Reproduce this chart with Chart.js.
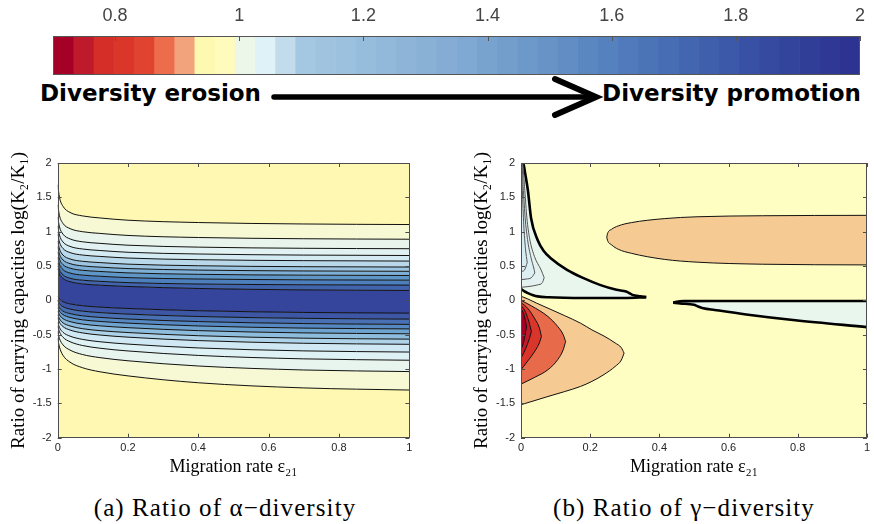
<!DOCTYPE html>
<html lang="en">
<head>
<meta charset="UTF-8">
<title>Diversity ratios</title>
<style>
  body { margin: 0; width: 874px; height: 524px; position: relative; background: #fff; overflow: hidden; }
  canvas { position: absolute; }
  .lbl { position: absolute; font-family: "DejaVu Sans"; font-weight: bold; font-size: 23px; line-height: 23px; color: #000; white-space: nowrap; }
  .cap { position: absolute; width: 420px; text-align: center; font-family: "Liberation Serif"; font-size: 25px; letter-spacing: 1.1px; line-height: 28px; color: #000; white-space: nowrap; }
</style>
</head>
<body>
<canvas id="cbar" width="874" height="75" style="left:0;top:0"></canvas>
<div class="lbl" style="left:40px;top:82px">Diversity erosion</div>
<div class="lbl" style="right:13px;top:82px">Diversity promotion</div>
<svg style="position:absolute;left:0;top:0" width="874" height="130">
  <line x1="274" y1="97" x2="592" y2="97" stroke="#000" stroke-width="5.5" stroke-linecap="round"/>
  <polyline points="555,79 596,97 555,115" fill="none" stroke="#000" stroke-width="6" stroke-linecap="round" stroke-linejoin="miter"/>
</svg>
<canvas id="alpha" width="437" height="340" style="left:0;top:140px"></canvas>
<canvas id="gamma" width="437" height="340" style="left:437px;top:140px"></canvas>
<div class="cap" style="left:15px;top:494px">(a) Ratio of α−diversity</div>
<div class="cap" style="left:474px;top:494px">(b) Ratio of γ−diversity</div>

<script src="https://cdn.jsdelivr.net/npm/chart.js"></script>
<script>
// colour bar
const cbMin = 0.7, cbMax = 2;
const cbTicks = [0.8, 1, 1.2, 1.4, 1.6, 1.8, 2];
const cbColors = ['#a50026', '#be1a2c', '#d52d27', '#da372a', '#e0432f', '#ec6c4b', '#f3a37b', '#fef9b0', '#fffbbd',
    '#ecf6e9', '#dff2f7', '#c2dcec', '#a4c8e2', '#a0c4e0', '#9cc1de', '#97bddc', '#93b9da', '#8eb5d8', '#89b1d6',
    '#84acd4', '#7fa8d2', '#79a3cf', '#739ecc', '#6d98ca', '#6793c7', '#618dc4', '#5b87c1', '#5581be', '#507abb',
    '#4b74b7', '#476db4', '#4366b0', '#3f5fac', '#3c58a8', '#3951a4', '#364aa0', '#33449c', '#313e98', '#2f3894', '#2c3391'];

// (a) alpha diversity: contour lines, read at these migration rates
const alphaX = [0, 0.005, 0.015, 0.035, 0.07, 0.12, 0.2, 0.4, 0.7, 1];
const alphaY = [
    [1.68, 1.5, 1.37, 1.28, 1.23, 1.2, 1.167, 1.133, 1.112, 1.104],
    [1.39, 1.235, 1.12, 1.045, 1.0, 0.975, 0.945, 0.915, 0.897, 0.89],
    [1.21, 1.07, 0.964, 0.895, 0.853, 0.83, 0.803, 0.775, 0.758, 0.752],
    [1.083, 0.95, 0.851, 0.786, 0.748, 0.726, 0.70, 0.675, 0.659, 0.653],
    [0.972, 0.848, 0.756, 0.696, 0.66, 0.64, 0.616, 0.592, 0.578, 0.572],
    [0.865, 0.747, 0.66, 0.603, 0.569, 0.55, 0.527, 0.504, 0.49, 0.485],
    [0.783, 0.671, 0.589, 0.535, 0.502, 0.484, 0.463, 0.441, 0.428, 0.423],
    [0.707, 0.60, 0.521, 0.469, 0.438, 0.421, 0.40, 0.379, 0.367, 0.362],
    [0.629, 0.525, 0.448, 0.398, 0.368, 0.351, 0.331, 0.311, 0.299, 0.294],
    [0.547, 0.446, 0.372, 0.322, 0.294, 0.277, 0.258, 0.238, 0.227, 0.222],
    [0.464, 0.384, 0.32, 0.272, 0.24, 0.221, 0.202, 0.173, 0.152, 0.144],
    [0.064, 0.022, -0.018, -0.051, -0.078, -0.098, -0.118, -0.151, -0.176, -0.186],
    [-0.003, -0.049, -0.092, -0.127, -0.157, -0.178, -0.20, -0.235, -0.262, -0.273],
    [-0.06, -0.109, -0.156, -0.193, -0.225, -0.248, -0.272, -0.309, -0.338, -0.35],
    [-0.106, -0.159, -0.208, -0.249, -0.283, -0.307, -0.332, -0.373, -0.404, -0.416],
    [-0.157, -0.213, -0.266, -0.309, -0.345, -0.371, -0.398, -0.441, -0.474, -0.487],
    [-0.21, -0.27, -0.327, -0.373, -0.412, -0.441, -0.469, -0.515, -0.551, -0.565],
    [-0.255, -0.32, -0.382, -0.432, -0.474, -0.505, -0.536, -0.586, -0.625, -0.64],
    [-0.323, -0.396, -0.465, -0.521, -0.568, -0.603, -0.637, -0.693, -0.736, -0.753],
    [-0.372, -0.457, -0.537, -0.602, -0.657, -0.697, -0.737, -0.802, -0.852, -0.872],
    [-0.457, -0.556, -0.648, -0.724, -0.788, -0.834, -0.88, -0.956, -1.014, -1.037],
    [-0.555, -0.68, -0.8, -0.9, -0.98, -1.04, -1.1, -1.2, -1.275, -1.306]
];
const alphaBands = ['#f6f9d4', '#e9f5ec', '#e2f2f2', '#d4ebf4', '#b9d9eb', '#9dc5e1', '#7eb0d7', '#5f96c8', '#4d7fbd',
    '#4264ac', '#36459c', '#3d56a5', '#4870b3', '#5688c2', '#6fa3cf', '#8ebcdc', '#aed2e8', '#cfe8f3', '#def1f5',
    '#e8f5ef', '#f6f9d4'];

// (b) gamma diversity: region outlines as [migration rate, log ratio]
const ellipseTop = [[0.248, 0.921], [0.25, 0.97], [0.262, 1.035], [0.281, 1.084], [0.319, 1.132], [0.414, 1.19], [0.509, 1.217], [0.698, 1.232], [1, 1.238]];
const ellipseBot = [[0.248, 0.921], [0.25, 0.875], [0.262, 0.807], [0.281, 0.744], [0.319, 0.685], [0.414, 0.597], [0.509, 0.556], [0.698, 0.526], [1, 0.516]];
const promoTop = [[0, 2], [0.0066, 2], [0.012, 1.85], [0.02, 1.6], [0.029, 1.2], [0.048, 0.88], [0.067, 0.71], [0.086, 0.613], [0.133, 0.444], [0.181, 0.323], [0.228, 0.225], [0.276, 0.153], [0.304, 0.128], [0.322, 0.08], [0.345, 0.058], [0.362, 0.047]];
const promoBot = [[0, 0.17], [0.01, 0.13], [0.02, 0.105], [0.035, 0.075], [0.048, 0.058], [0.08, 0.045], [0.181, 0.035], [0.3, 0.035], [0.362, 0.047]];
const loop1Top = [[0, 2], [0.004, 2], [0.011, 1.6], [0.017, 1.2], [0.025, 0.9], [0.039, 0.637], [0.058, 0.444], [0.067, 0.33]];
const loop1Bot = [[0, 0.19], [0.02, 0.2], [0.048, 0.225], [0.062, 0.26], [0.067, 0.33]];
const loop2Top = [[0, 2], [0.002, 2], [0.007, 1.6], [0.012, 1.2], [0.02, 0.85], [0.03, 0.6], [0.037, 0.47], [0.04, 0.4]];
const loop2Bot = [[0, 0.3], [0.015, 0.31], [0.03, 0.33], [0.04, 0.4]];
const loop3Top = [[0, 2], [0.001, 2], [0.004, 1.6], [0.008, 1.1], [0.013, 0.75], [0.018, 0.55]];
const loop3Bot = [[0, 0.42], [0.01, 0.44], [0.018, 0.55]];
const sliverTop = [[0.44, -0.033], [0.45, -0.02], [0.47, -0.012], [0.55, -0.01], [1, -0.01]];
const sliverBot = [[0.44, -0.033], [0.46, -0.045], [0.5, -0.065], [0.51, -0.085], [0.527, -0.115], [0.56, -0.14], [0.651, -0.205], [0.793, -0.29], [1, -0.39]];
const red1Top = [[0, 0.06], [0.02, 0.02], [0.045, -0.04], [0.078, -0.114], [0.125, -0.22], [0.172, -0.332], [0.205, -0.43], [0.24, -0.52], [0.272, -0.62], [0.29, -0.69], [0.298, -0.768]];
const red1Bot = [[0, -1.52], [0.078, -1.4], [0.125, -1.33], [0.172, -1.254], [0.205, -1.18], [0.24, -1.08], [0.272, -0.963], [0.29, -0.87], [0.298, -0.768]];
const red2Top = [[0, 0.0], [0.03, -0.08], [0.078, -0.236], [0.106, -0.38], [0.122, -0.5], [0.129, -0.6]];
const red2Bot = [[0, -1.22], [0.04, -1.12], [0.078, -1.01], [0.106, -0.865], [0.122, -0.72], [0.129, -0.6]];
const red3Top = [[0, -0.03], [0.02, -0.12], [0.04, -0.27], [0.053, -0.4], [0.059, -0.526]];
const red3Bot = [[0, -1.01], [0.02, -0.88], [0.04, -0.74], [0.053, -0.62], [0.059, -0.526]];
const red4Top = [[0, -0.07], [0.012, -0.16], [0.024, -0.33], [0.03, -0.455]];
const red4Bot = [[0, -0.84], [0.012, -0.72], [0.024, -0.56], [0.03, -0.455]];
const red5Top = [[0, -0.12], [0.008, -0.2], [0.013, -0.3], [0.016, -0.38]];
const red5Bot = [[0, -0.72], [0.008, -0.6], [0.013, -0.47], [0.016, -0.38]];

const xTicks = [0, 0.2, 0.4, 0.6, 0.8, 1];
const yTicks = [-2, -1.5, -1, -0.5, 0, 0.5, 1, 1.5, 2];

// frame, inward tick marks and plot background
const boxPlugin = {
    id: 'box',
    beforeDraw(chart, args, opts) {
        if (!opts.bg) return;
        const a = chart.chartArea, c = chart.ctx;
        c.save();
        c.fillStyle = opts.bg;
        c.fillRect(a.left, a.top, a.right - a.left, a.bottom - a.top);
        c.restore();
    },
    afterDraw(chart, args, opts) {
        const a = chart.chartArea, c = chart.ctx, len = opts.len || 4;
        c.save();
        c.strokeStyle = opts.color || '#444';
        c.lineWidth = 1;
        c.beginPath();
        chart.scales.x.ticks.forEach(t => {
            const px = Math.round(chart.scales.x.getPixelForValue(t.value)) + 0.5;
            c.moveTo(px, a.top); c.lineTo(px, a.top + len);
            if (!opts.topOnly) { c.moveTo(px, a.bottom); c.lineTo(px, a.bottom - len); }
        });
        if (!opts.topOnly) {
            chart.scales.y.ticks.forEach(t => {
                const py = Math.round(chart.scales.y.getPixelForValue(t.value)) + 0.5;
                c.moveTo(a.left, py); c.lineTo(a.left + len, py);
                c.moveTo(a.right, py); c.lineTo(a.right - len, py);
            });
        }
        c.stroke();
        c.lineWidth = opts.frameWidth || 1;
        c.strokeRect(Math.round(a.left) + 0.5, Math.round(a.top) + 0.5, Math.round(a.right - a.left) - 1, Math.round(a.bottom - a.top) - 1);
        c.restore();
    }
};

const plainNum = v => String(v);

const cbStep = (cbMax - cbMin) / cbColors.length;
new Chart(document.getElementById('cbar'), {
    type: 'bar',
    data: {
        labels: [''],
        datasets: cbColors.map((col, i) => ({
            data: [[cbMin + i * cbStep, cbMin + (i + 1) * cbStep]],
            backgroundColor: col,
            borderWidth: 0,
            barPercentage: 1,
            categoryPercentage: 1,
            grouped: false
        }))
    },
    options: {
        indexAxis: 'y',
        responsive: false,
        animation: false,
        layout: { padding: { left: 53, right: 11, top: 0, bottom: 0 } },
        scales: {
            x: {
                type: 'linear', position: 'top', min: cbMin, max: cbMax,
                afterBuildTicks: s => { s.ticks = cbTicks.map(v => ({ value: v })); },
                afterFit: s => { s.height = 36; },
                grid: { display: false, drawTicks: false },
                border: { display: false },
                ticks: { color: '#444', padding: 9, callback: plainNum, font: { family: 'Liberation Sans', size: 18 } }
            },
            y: { display: false }
        },
        plugins: { legend: { display: false }, tooltip: { enabled: false }, box: { topOnly: true, len: 5, color: '#555' } }
    },
    plugins: [boxPlugin]
});

const pts = arr => arr.map(([x, y]) => ({ x, y }));

function plotOptions(padLeft, padRight, bg) {
    return {
        responsive: false,
        animation: false,
        layout: { padding: { left: padLeft, right: padRight, top: 23, bottom: 2 } },
        elements: { point: { radius: 0 }, line: { cubicInterpolationMode: 'monotone' } },
        scales: {
            x: {
                type: 'linear', min: 0, max: 1,
                afterBuildTicks: s => { s.ticks = xTicks.map(v => ({ value: v })); },
                afterFit: s => { s.height = 40.3; },
                grid: { display: false, drawTicks: false },
                border: { display: false },
                ticks: { color: '#262626', padding: 4, callback: plainNum, font: { family: 'Liberation Sans', size: 11 } },
                title: { display: true, text: 'Migration rate ε₂₁', color: '#000', padding: 0, font: { family: 'Liberation Serif', size: 18 } }
            },
            y: {
                type: 'linear', min: -2, max: 2,
                afterBuildTicks: s => { s.ticks = yTicks.map(v => ({ value: v })); },
                afterFit: s => { s.width = 50.5; },
                grid: { display: false, drawTicks: false },
                border: { display: false },
                ticks: { color: '#262626', padding: 6, callback: plainNum, font: { family: 'Liberation Sans', size: 11 } },
                title: { display: true, text: 'Ratio of carrying capacities log(K₂/K₁)', color: '#000', padding: 0, font: { family: 'Liberation Serif', size: 19 } }
            }
        },
        plugins: {
            legend: { display: false }, tooltip: { enabled: false },
            filler: { drawTime: 'beforeDatasetsDraw' },
            box: { bg: bg, len: 4, color: '#4d4d4d' }
        }
    };
}

// (a) one dataset per contour line, each filled down to the next one
new Chart(document.getElementById('alpha'), {
    type: 'line',
    data: {
        datasets: alphaY.map((ys, i) => ({
            data: ys.map((y, j) => ({ x: alphaX[j], y })),
            borderColor: '#111',
            borderWidth: 1,
            backgroundColor: alphaBands[i] || 'transparent',
            fill: i < alphaY.length - 1 ? '+1' : false
        }))
    },
    options: plotOptions(7.2, 27.7, '#fff8b2'),
    plugins: [boxPlugin]
});

// (b) each region is an upper outline filled down to its lower outline
const hideFirst = { borderColor: c => c.p0DataIndex === 0 ? 'rgba(0,0,0,0)' : undefined };
function region(top, bot, fillColor, width, lineColor, skipFirst) {
    return [
        { data: pts(top), borderColor: lineColor, borderWidth: width, backgroundColor: fillColor, fill: '+1', segment: skipFirst ? hideFirst : undefined },
        { data: pts(bot), borderColor: lineColor, borderWidth: width, fill: false }
    ];
}

new Chart(document.getElementById('gamma'), {
    type: 'line',
    data: {
        datasets: [
            ...region(loop3Top, loop3Bot, '#d6ecf3', 1, '#555', true),
            ...region(loop2Top, loop2Bot, '#ddeff2', 1, '#555', true),
            ...region(loop1Top, loop1Bot, '#e3f2f0', 1, '#555', true),
            ...region(promoTop, promoBot, '#e9f6ee', 2.6, '#000', true),
            ...region(sliverTop, sliverBot, '#e9f6ee', 2.6, '#000', false),
            ...region(red5Top, red5Bot, '#a50026', 1, '#111', false),
            ...region(red4Top, red4Bot, '#c31a2b', 1, '#111', false),
            ...region(red3Top, red3Bot, '#d9352a', 1, '#111', false),
            ...region(red2Top, red2Bot, '#e76a4b', 1, '#111', false),
            ...region(red1Top, red1Bot, '#f6ca93', 1, '#111', false),
            ...region(ellipseTop, ellipseBot, '#f6ca93', 1, '#111', false)
        ]
    },
    options: plotOptions(33.5, 1, '#fffec2'),
    plugins: [boxPlugin]
});
</script>
</body>
</html>
